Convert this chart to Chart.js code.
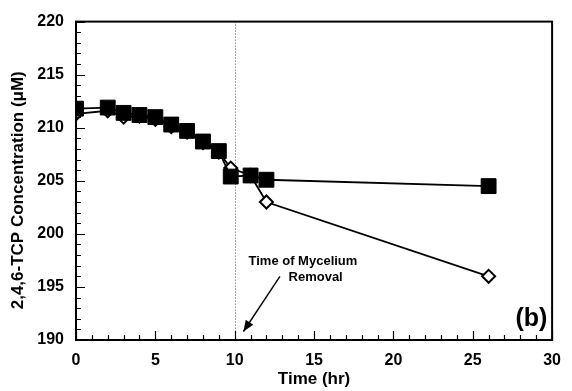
<!DOCTYPE html>
<html>
<head>
<meta charset="utf-8">
<script src="https://cdn.jsdelivr.net/npm/chart.js@4"></script>
<style>
  html, body { margin: 0; padding: 0; background: #fff; }
  #wrap { width: 572px; height: 391px; }
</style>
</head>
<body>
<div id="wrap"><canvas id="chartTCP"></canvas></div>
<script>
// time points (hr)
var timeHr = [0, 2, 3, 4, 5, 6, 7, 8, 9, 9.75, 11, 12, 26];
// filled squares
var concFilled = [211.8, 211.9, 211.4, 211.2, 211.0, 210.3, 209.7, 208.7, 207.8, 205.4, 205.5, 205.1, 204.5];
// open diamonds
var concOpen = [211.3, 211.6, 211.0, 211.1, 210.8, 210.1, 209.6, 208.6, 207.7, 206.2, 205.5, 203.0, 196.0];
var xTicks = [0, 5, 10, 15, 20, 25, 30];
var yTicks = [190, 195, 200, 205, 210, 215, 220];
var removalTime = 10;

var fontFamily = '"Liberation Sans", Arial, sans-serif';

function toPoints(xs, ys) {
    var pts = [];
    for (var i = 0; i < xs.length; i++) {
        pts.push({ x: xs[i], y: ys[i] });
    }
    return pts;
}

// frame, inward ticks, dotted line and annotation
var extras = {
    id: 'extras',
    beforeDatasetsDraw(chart) {
        const ctx = chart.ctx;
        const x = chart.scales.x;
        const a = chart.chartArea;
        ctx.save();
        // dotted line at mycelium removal
        ctx.strokeStyle = '#555';
        ctx.lineWidth = 1;
        ctx.setLineDash([1, 2]);
        const xr = Math.round(x.getPixelForValue(removalTime)) + 0.5;
        ctx.beginPath();
        ctx.moveTo(xr, a.top);
        ctx.lineTo(xr, a.bottom);
        ctx.stroke();
        ctx.restore();
    },
    afterDraw(chart) {
        const ctx = chart.ctx;
        const x = chart.scales.x;
        const y = chart.scales.y;
        const a = chart.chartArea;
        ctx.save();
        ctx.strokeStyle = '#000';
        ctx.lineWidth = 2;
        ctx.strokeRect(a.left, a.top, a.right - a.left, a.bottom - a.top);

        ctx.lineWidth = 1.2;
        ctx.beginPath();
        for (let v = 0; v <= 30; v++) {
            const px = Math.round(x.getPixelForValue(v)) + 0.5;
            const len = v % 5 == 0 ? 9 : 5;
            ctx.moveTo(px, a.bottom);
            ctx.lineTo(px, a.bottom - len);
        }
        for (let v = 190; v <= 220; v++) {
            const py = Math.round(y.getPixelForValue(v)) + 0.5;
            const len = v % 5 == 0 ? 9 : 5;
            ctx.moveTo(a.left, py);
            ctx.lineTo(a.left + len, py);
        }
        ctx.stroke();

        // annotation text
        ctx.fillStyle = '#000';
        ctx.font = 'bold 13px ' + fontFamily;
        ctx.textAlign = 'center';
        ctx.textBaseline = 'middle';
        ctx.fillText('Time of Mycelium', x.getPixelForValue(14.3), y.getPixelForValue(197.45));
        ctx.fillText('Removal', x.getPixelForValue(15.1), y.getPixelForValue(195.85));

        // arrow
        const x1 = x.getPixelForValue(12.85), y1 = y.getPixelForValue(196.0);
        const x2 = x.getPixelForValue(10.55), y2 = y.getPixelForValue(190.8);
        ctx.lineWidth = 1.4;
        ctx.beginPath();
        ctx.moveTo(x1, y1);
        ctx.lineTo(x2, y2);
        ctx.stroke();
        const ang = Math.atan2(y2 - y1, x2 - x1);
        const hl = 11, hw = 4.5;
        ctx.beginPath();
        ctx.moveTo(x2, y2);
        ctx.lineTo(x2 - hl * Math.cos(ang) + hw * Math.sin(ang), y2 - hl * Math.sin(ang) - hw * Math.cos(ang));
        ctx.lineTo(x2 - hl * Math.cos(ang) - hw * Math.sin(ang), y2 - hl * Math.sin(ang) + hw * Math.cos(ang));
        ctx.closePath();
        ctx.fill();

        // panel label
        ctx.font = 'bold 25px ' + fontFamily;
        ctx.fillText('(b)', x.getPixelForValue(28.7), y.getPixelForValue(192.0));
        ctx.restore();
    },
};

var ctx = document.getElementById('chartTCP').getContext('2d');
var myChart = new Chart(ctx, {
    type: 'scatter',
    data: {
        datasets: [
            {
                label: 'open',
                data: toPoints(timeHr, concOpen),
                showLine: true,
                borderColor: '#000',
                borderWidth: 1.8,
                pointStyle: 'rectRot',
                pointRadius: 6.5,
                pointBorderWidth: 2,
                pointBackgroundColor: '#fff',
                pointBorderColor: '#000',
                order: 2,
            },
            {
                label: 'filled',
                data: toPoints(timeHr, concFilled),
                showLine: true,
                borderColor: '#000',
                borderWidth: 1.8,
                pointStyle: 'rect',
                pointRadius: 10.5,
                pointBorderWidth: 1,
                pointBackgroundColor: '#000',
                pointBorderColor: '#000',
                order: 1,
            },
        ],
    },
    options: {
        responsive: true,
        maintainAspectRatio: false,
        animation: false,
        events: [],
        layout: { padding: { top: 18, right: 11, left: 0, bottom: 0 } },
        plugins: {
            legend: { display: false },
            tooltip: { enabled: false },
        },
        scales: {
            x: {
                type: 'linear',
                min: 0,
                max: 30,
                afterFit(scale) { scale.height = 51; },
                afterBuildTicks(scale) { scale.ticks = xTicks.map((v) => ({ value: v })); },
                grid: { display: false, drawTicks: false, tickLength: 0 },
                border: { display: false },
                ticks: {
                    padding: 11,
                    color: '#000',
                    font: { family: fontFamily, size: 16, weight: 'bold' },
                },
                title: {
                    display: true,
                    text: 'Time (hr)',
                    color: '#000',
                    font: { family: fontFamily, size: 17, weight: 'bold' },
                    padding: { top: 0, bottom: 1 },
                },
            },
            y: {
                type: 'linear',
                min: 190,
                max: 220,
                afterFit(scale) { scale.width = 76; },
                afterBuildTicks(scale) { scale.ticks = yTicks.map((v) => ({ value: v })); },
                grid: { display: false, drawTicks: false, tickLength: 0 },
                border: { display: false },
                ticks: {
                    padding: 12,
                    color: '#000',
                    font: { family: fontFamily, size: 16, weight: 'bold' },
                },
                title: {
                    display: true,
                    text: '2,4,6-TCP Concentration (\u03bcM)    ',
                    color: '#000',
                    font: { family: fontFamily, size: 17, weight: 'bold' },
                    padding: { top: 8, bottom: 0 },
                },
            },
        },
    },
    plugins: [extras],
});
</script>
</body>
</html>
